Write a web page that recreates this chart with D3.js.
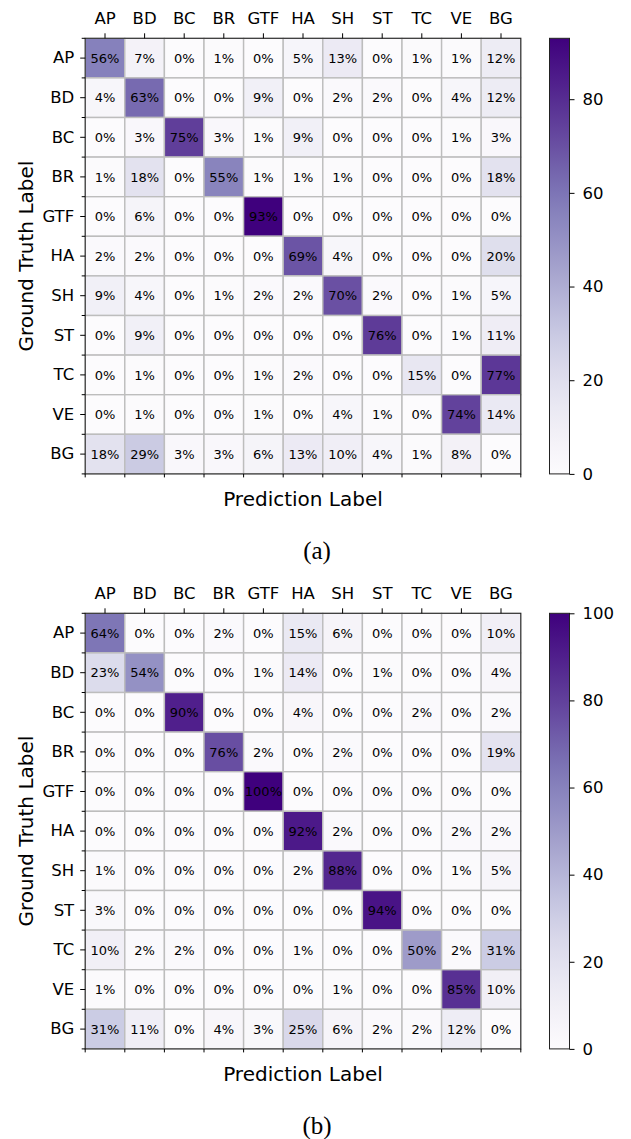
<!DOCTYPE html>
<html>
<head>
<meta charset="utf-8">
<script src="https://cdn.jsdelivr.net/npm/d3@7"></script>
<style>
  body { margin: 0; background: #ffffff; }
  text { font-family: "DejaVu Sans", sans-serif; fill: #000; }
</style>
</head>
<body>
<div id="viz"></div>
<script>
// class names, same order for rows (ground truth) and columns (prediction)
const labels = ["AP", "BD", "BC", "BR", "GTF", "HA", "SH", "ST", "TC", "VE", "BG"];

// (a) percentages, one row per ground truth class
const matrixA = [
  [56, 7, 0, 1, 0, 5, 13, 0, 1, 1, 12],
  [4, 63, 0, 0, 9, 0, 2, 2, 0, 4, 12],
  [0, 3, 75, 3, 1, 9, 0, 0, 0, 1, 3],
  [1, 18, 0, 55, 1, 1, 1, 0, 0, 0, 18],
  [0, 6, 0, 0, 93, 0, 0, 0, 0, 0, 0],
  [2, 2, 0, 0, 0, 69, 4, 0, 0, 0, 20],
  [9, 4, 0, 1, 2, 2, 70, 2, 0, 1, 5],
  [0, 9, 0, 0, 0, 0, 0, 76, 0, 1, 11],
  [0, 1, 0, 0, 1, 2, 0, 0, 15, 0, 77],
  [0, 1, 0, 0, 1, 0, 4, 1, 0, 74, 14],
  [18, 29, 3, 3, 6, 13, 10, 4, 1, 8, 0]
];

// (b) percentages
const matrixB = [
  [64, 0, 0, 2, 0, 15, 6, 0, 0, 0, 10],
  [23, 54, 0, 0, 1, 14, 0, 1, 0, 0, 4],
  [0, 0, 90, 0, 0, 4, 0, 0, 2, 0, 2],
  [0, 0, 0, 76, 2, 0, 2, 0, 0, 0, 19],
  [0, 0, 0, 0, 100, 0, 0, 0, 0, 0, 0],
  [0, 0, 0, 0, 0, 92, 2, 0, 0, 2, 2],
  [1, 0, 0, 0, 0, 2, 88, 0, 0, 1, 5],
  [3, 0, 0, 0, 0, 0, 0, 94, 0, 0, 0],
  [10, 2, 2, 0, 0, 1, 0, 0, 50, 2, 31],
  [1, 0, 0, 0, 0, 0, 1, 0, 0, 85, 10],
  [31, 11, 0, 4, 3, 25, 6, 2, 2, 12, 0]
];

// colorbar ranges and ticks
const vmaxA = 93;
const vmaxB = 100;
const cbTicksA = [0, 20, 40, 60, 80];
const cbTicksB = [0, 20, 40, 60, 80, 100];

const svg = d3.select("#viz")
  .append("svg")
  .attr("width", 631)
  .attr("height", 1139);

function drawMatrix(matrix, vmax, cbTicks, top, caption, id) {
  const left = 85.2, size = 435.6;
  const bottom = top + size;
  const x = d3.scaleBand().domain(labels).range([left, left + size]);
  const y = d3.scaleBand().domain(labels).range([top, bottom]);
  const color = d3.scaleSequential(d3.interpolatePurples).domain([0, vmax]);

  const g = svg.append("g");

  const cells = [];
  matrix.forEach((row, i) => row.forEach((v, j) => {
    cells.push({ r: labels[i], c: labels[j], v: v });
  }));

  // heatmap cells with light grid
  g.selectAll("rect.cell").data(cells).enter().append("rect")
    .attr("class", "cell")
    .attr("x", d => x(d.c))
    .attr("y", d => y(d.r))
    .attr("width", x.bandwidth())
    .attr("height", y.bandwidth())
    .attr("fill", d => color(d.v))
    .attr("stroke", "#bdbdbd")
    .attr("stroke-width", 1.4);

  // percentages in the cells
  g.selectAll("text.val").data(cells).enter().append("text")
    .attr("class", "val")
    .attr("x", d => x(d.c) + x.bandwidth() / 2)
    .attr("y", d => y(d.r) + y.bandwidth() / 2)
    .attr("text-anchor", "middle")
    .attr("dy", "0.36em")
    .style("font-size", "13px")
    .text(d => d.v + "%");

  // frame
  g.append("rect")
    .attr("x", left).attr("y", top)
    .attr("width", size).attr("height", size)
    .attr("fill", "none")
    .attr("stroke", "#222")
    .attr("stroke-width", 1);

  // x labels on top
  g.append("g")
    .attr("transform", `translate(0,${top})`)
    .call(d3.axisTop(x).tickSize(5).tickPadding(9))
    .call(a => a.select(".domain").remove())
    .call(a => a.selectAll("text").style("font-size", "16.5px").attr("font-family", null));

  // y labels on left
  g.append("g")
    .attr("transform", `translate(${left},0)`)
    .call(d3.axisLeft(y).tickSize(5).tickPadding(6))
    .call(a => a.select(".domain").remove())
    .call(a => a.selectAll("text").style("font-size", "16.5px").attr("font-family", null));

  // minor ticks at cell edges (left and bottom)
  const edges = d3.range(labels.length + 1);
  g.selectAll("line.minY").data(edges).enter().append("line")
    .attr("x1", left - 3.5).attr("x2", left)
    .attr("y1", k => top + k * y.step()).attr("y2", k => top + k * y.step())
    .attr("stroke", "#000");
  g.selectAll("line.minX").data(edges).enter().append("line")
    .attr("y1", bottom).attr("y2", bottom + 3.5)
    .attr("x1", k => left + k * x.step()).attr("x2", k => left + k * x.step())
    .attr("stroke", "#000");

  // axis titles
  g.append("text")
    .attr("x", left + size / 2)
    .attr("y", bottom + 32)
    .attr("text-anchor", "middle")
    .style("font-size", "20px")
    .text("Prediction Label");

  g.append("text")
    .attr("transform", `translate(33,${top + size / 2}) rotate(-90)`)
    .attr("text-anchor", "middle")
    .style("font-size", "20px")
    .text("Ground Truth Label");

  // colorbar
  const grad = svg.append("defs").append("linearGradient")
    .attr("id", id)
    .attr("x1", 0).attr("y1", 1).attr("x2", 0).attr("y2", 0);
  d3.range(0, 1.0001, 0.05).forEach(t => {
    grad.append("stop").attr("offset", t).attr("stop-color", color(t * vmax));
  });

  const cbLeft = 549.5, cbWidth = 20;
  g.append("rect")
    .attr("x", cbLeft).attr("y", top)
    .attr("width", cbWidth).attr("height", size)
    .attr("fill", `url(#${id})`)
    .attr("stroke", "#222")
    .attr("stroke-width", 1);

  const cScale = d3.scaleLinear().domain([0, vmax]).range([bottom, top]);
  g.append("g")
    .attr("transform", `translate(${cbLeft + cbWidth},0)`)
    .call(d3.axisRight(cScale).tickValues(cbTicks).tickSize(5).tickPadding(8))
    .call(a => a.select(".domain").remove())
    .call(a => a.selectAll("text").style("font-size", "16.5px").attr("font-family", null));

  // caption under the panel
  svg.append("text")
    .attr("x", 317)
    .attr("y", bottom + 85)
    .attr("text-anchor", "middle")
    .style("font-family", "'Liberation Serif', serif")
    .style("font-size", "25px")
    .text(caption);
}

drawMatrix(matrixA, vmaxA, cbTicksA, 38.3, "(a)", "gradA");
drawMatrix(matrixB, vmaxB, cbTicksB, 613.3, "(b)", "gradB");
</script>
</body>
</html>
